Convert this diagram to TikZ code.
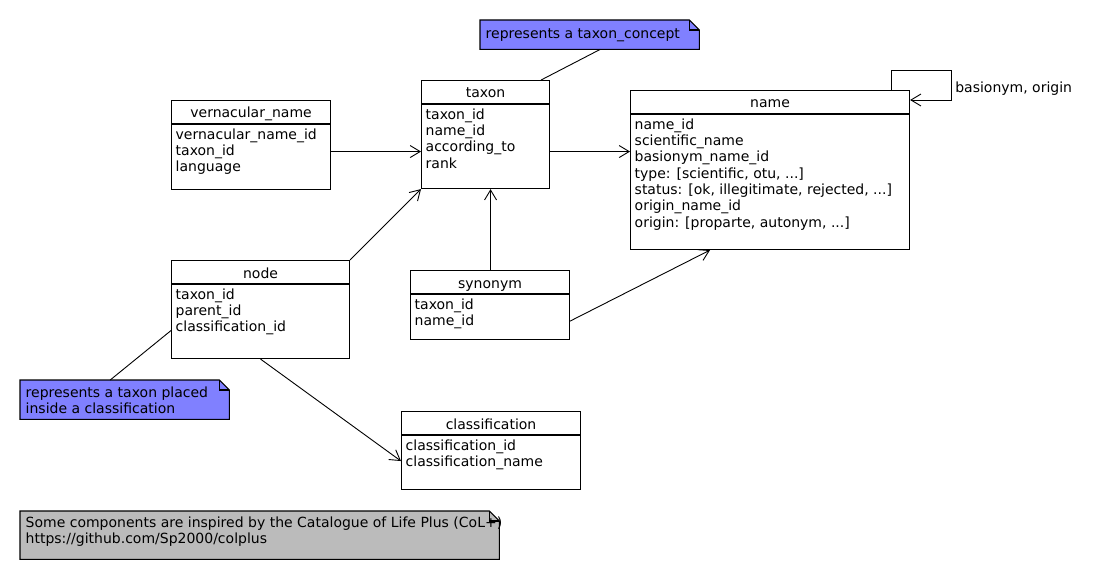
\documentclass[tikz,border=0pt]{standalone}
\usepackage{fontspec}
\setmainfont{DejaVu Sans}
\usetikzlibrary{arrows.meta,calc}
\definecolor{umlInk}{HTML}{000000}
\definecolor{umlNote}{HTML}{8080FF}
\definecolor{umlNoteGray}{HTML}{BBBBBB}
\newcommand\umlfont{\fontsize{14}{16.3}\selectfont}
\tikzset{
  % Class box (outline only, title and attributes are set apart)
  cbox/.style={rectangle,draw=umlInk,line width=1.1pt,fill=white,
    inner sep=0pt,anchor=north west},
  % Class title
  ctitle/.style={inner sep=0pt,anchor=base,font=\umlfont,text=umlInk},
  % Attribute list (top of node = first baseline - 12pt)
  cattr/.style={inner sep=0pt,anchor=north west,align=left,
    font=\umlfont,text=umlInk,
    execute at begin node={\rule{0pt}{12pt}}},
  % Note box (folded corner drawn by \dogear)
  nbox/.style={rectangle,inner sep=0pt,anchor=north west},
  ntext/.style={cattr},
  % Arrows
  arr/.style={-{Straight Barb[length=10pt,width=12pt]},line width=0.9pt,color=umlInk},
  lnk/.style={line width=0.9pt,color=umlInk},
  lbl/.style={inner sep=0pt,anchor=base west,font=\umlfont,text=umlInk},
}
% header separator of a class box
\newcommand\headline[1]{%
  \draw[line width=1.1pt,umlInk] ([yshift=-24pt]#1.north west) -- ([yshift=-24pt]#1.north east);}
% note outline with folded corner
\newcommand\dogear[2]{%
  \filldraw[fill=#2,draw=umlInk,line width=1.1pt] (#1.north west)
    -- ([xshift=-10pt]#1.north east) -- ([yshift=-10pt]#1.north east)
    -- (#1.south east) -- (#1.south west) -- cycle;
  \draw[line width=1.1pt,umlInk] ([xshift=-10pt]#1.north east) |- ([yshift=-10pt]#1.north east);}

\begin{document}
\begin{tikzpicture}[x=1pt,y=-1pt]
  \fill[white] (0,0) rectangle (1100,580);

  % classes
  \node[cbox,minimum width=128pt,minimum height=108pt] (taxon) at (421,80) {};
  \headline{taxon}
  \node[ctitle] at ([yshift=-18pt]taxon.north) {taxon};
  \node[cattr] at ([xshift=4.5pt,yshift=-28.5pt]taxon.north west)
    {taxon\_id\\name\_id\\according\_to\\rank};

  \node[cbox,minimum width=279pt,minimum height=159pt] (name) at (630,90) {};
  \headline{name}
  \node[ctitle] at ([yshift=-18pt]name.north) {name};
  \node[cattr] at ([xshift=4.5pt,yshift=-28.5pt]name.north west)
    {name\_id\\scientific\_name\\basionym\_name\_id\\type: [scientific, otu, ...]\\
     status: [ok, illegitimate, rejected, ...]\\origin\_name\_id\\
     origin: [proparte, autonym, ...]};

  \node[cbox,minimum width=159pt,minimum height=89pt] (vernacular) at (171,100) {};
  \headline{vernacular}
  \node[ctitle] at ([yshift=-18pt]vernacular.north) {vernacular\_name};
  \node[cattr] at ([xshift=4.5pt,yshift=-28.5pt]vernacular.north west)
    {vernacular\_name\_id\\taxon\_id\\language};

  \node[cbox,minimum width=178pt,minimum height=98pt] (node) at (171,260) {};
  \headline{node}
  \node[ctitle] at ([yshift=-18pt]node.north) {node};
  \node[cattr] at ([xshift=4.5pt,yshift=-28.5pt]node.north west)
    {taxon\_id\\parent\_id\\classification\_id};

  \node[cbox,minimum width=159pt,minimum height=69pt] (synonym) at (410,270) {};
  \headline{synonym}
  \node[ctitle] at ([yshift=-18pt]synonym.north) {synonym};
  \node[cattr] at ([xshift=4.5pt,yshift=-28.5pt]synonym.north west)
    {taxon\_id\\name\_id};

  \node[cbox,minimum width=179pt,minimum height=78pt] (classification) at (401,411) {};
  \headline{classification}
  \node[ctitle] at ([yshift=-18pt]classification.north) {classification};
  \node[cattr] at ([xshift=4.5pt,yshift=-28.5pt]classification.north west)
    {classification\_id\\classification\_name};

  % notes
  \node[nbox,minimum width=219pt,minimum height=29pt] (conceptnote) at (480,20) {};
  \dogear{conceptnote}{umlNote}
  \node[ntext] at ([xshift=5.5pt,yshift=-6.3pt]conceptnote.north west)
    {represents a taxon\_concept};

  \node[nbox,minimum width=209pt,minimum height=39pt] (placednote) at (20,380) {};
  \dogear{placednote}{umlNote}
  \node[ntext] at ([xshift=5.5pt,yshift=-6.6pt]placednote.north west)
    {represents a taxon placed\\inside a classification};

  \node[nbox,minimum width=479pt,minimum height=48pt] (colnote) at (20,511) {};
  \dogear{colnote}{umlNoteGray}
  \node[ntext] at ([xshift=5.5pt,yshift=-5.6pt]colnote.north west)
    {Some components are inspired by the Catalogue of Life Plus (CoL+)\\
     https://github.com/Sp2000/colplus};

  % relations
  \draw[arr] ([yshift=-6.5pt]vernacular.east) -- ([yshift=-17pt]taxon.west);
  \draw[arr] ([yshift=-17pt]taxon.east) -- ([yshift=18.5pt]name.west);
  \draw[arr] (node.north east) -- (taxon.south west);
  \draw[arr] (synonym.north -| taxon.south) ++(5,0) coordinate (synup)
    (synup) -- (synup |- taxon.south);
  \draw[arr] ([yshift=19pt]synonym.south east) -- ($(name.south west)+(80,0)$);
  \draw[arr] (node.south) -- ([yshift=-10.5pt]classification.west);

  % self relation on name
  \coordinate (loop) at ([xshift=41pt,yshift=20pt]name.north east);
  \draw[arr] ([xshift=-19pt]name.north east) |- (loop) |- ([yshift=-10pt]name.north east);
  \node[lbl] (looplbl) at ([xshift=4pt,yshift=-23pt]loop) {basionym, origin};

  % note links
  \draw[lnk] ([xshift=10.5pt]conceptnote.south) -- ([xshift=-9pt]taxon.north east);
  \draw[lnk] ([xshift=-14.5pt]placednote.north) -- ([yshift=-21pt]node.west);
\end{tikzpicture}
\end{document}
